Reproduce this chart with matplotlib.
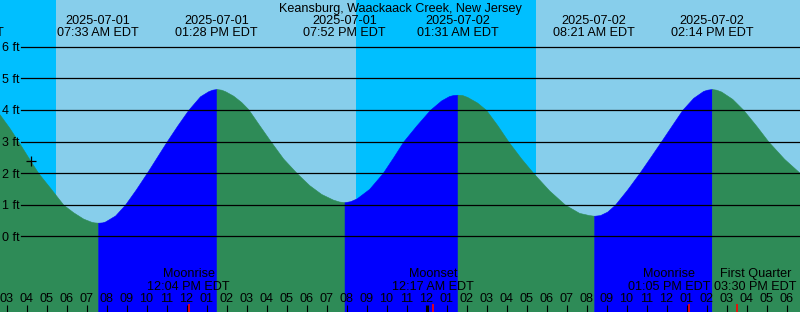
import matplotlib
matplotlib.use("Agg")
import numpy as np
import matplotlib.pyplot as plt

plt.rcParams['font.family'] = ['Liberation Sans', 'DejaVu Sans']

title = "Keansburg, Waackaack Creek, New Jersey"

# tide height, hours counted from 2025-07-01 00:00 EDT
curve_hours = [2.4, 2.64, 3.1, 3.555, 4.05, 4.555, 5.15, 5.805, 6.3, 6.8, 7.2, 7.35, 7.55,
               7.75, 7.9, 8.4, 8.89, 9.43, 9.975, 10.475, 10.975, 11.5, 12.055, 12.64, 13.05,
               13.25, 13.467,
               13.7, 13.9, 14.3, 14.7, 15.055, 15.6, 16.175, 16.8, 17.475, 18.1, 18.7, 19.29,
               19.6, 19.867,
               20.15, 20.475, 21.1, 21.775, 22.3, 22.805, 23.45, 24.14, 24.7, 25.1, 25.3, 25.517,
               25.75, 26.0, 26.5, 26.94, 27.5, 28.055, 28.7, 29.305, 30.1, 30.89, 31.6, 32.1,
               32.35,
               32.64, 33.0, 33.39, 34.0, 34.605, 35.15, 35.69, 36.22, 36.755, 37.3, 37.8, 38.0,
               38.233,
               38.45, 38.7, 39.25, 39.805, 40.45, 41.055, 41.85, 42.64, 42.9]
curve_feet = [4.04, 3.84, 3.44, 3.0, 2.5, 2.0, 1.53, 1.0, 0.76, 0.56, 0.46, 0.44, 0.43,
              0.44, 0.47, 0.66, 1.0, 1.48, 2.0, 2.5, 3.0, 3.5, 4.0, 4.43, 4.59,
              4.64, 4.66,
              4.64, 4.59, 4.45, 4.25, 4.02, 3.52, 3.0, 2.46, 2.0, 1.62, 1.34, 1.16,
              1.1, 1.08,
              1.11, 1.2, 1.5, 2.0, 2.5, 3.0, 3.5, 4.0, 4.3, 4.44, 4.47, 4.48,
              4.47, 4.41, 4.23, 4.0, 3.52, 3.0, 2.46, 2.0, 1.45, 1.0, 0.74, 0.67,
              0.65,
              0.67, 0.78, 1.0, 1.48, 2.0, 2.5, 3.0, 3.5, 4.0, 4.38, 4.6, 4.64,
              4.66,
              4.64, 4.58, 4.35, 4.0, 3.5, 3.0, 2.45, 2.0, 1.87]

extreme_hours = [0.78, 7.55, 13.467, 19.867, 25.517, 32.35, 38.233]
extreme_dates = ["2025-07-01", "2025-07-01", "2025-07-01", "2025-07-01",
                 "2025-07-02", "2025-07-02", "2025-07-02"]
extreme_times = ["12:47 AM EDT", "07:33 AM EDT", "01:28 PM EDT", "07:52 PM EDT",
                 "01:31 AM EDT", "08:21 AM EDT", "02:14 PM EDT"]

moon_hours = [12.067, 24.283, 37.083, 39.5]
moon_events = ["Moonrise", "Moonset", "Moonrise", "First Quarter"]
moon_times = ["12:04 PM EDT", "12:17 AM EDT", "01:05 PM EDT", "03:30 PM EDT"]
# the last two labels are pushed sideways so they fit inside the picture
moon_shift = [0.0, 0.0, -0.97, 0.92]

daylight = [(5.42, 20.43), (29.42, 45.0)]
now_hour, now_feet = 4.19, 2.38
feet_levels = [0, 1, 2, 3, 4, 5, 6]

W, H = 800, 312
t0 = 2.64                 # hour at left edge
px_per_hour = 20.0
zero_px, px_per_ft = 236.3, 31.6

fig = plt.figure(figsize=(W / 100, H / 100), dpi=100)
ax = fig.add_axes([0, 0, 1, 1])
ax.set_xlim(t0, t0 + W / px_per_hour)
ybot = (zero_px - H) / px_per_ft
ax.set_ylim(ybot, zero_px / px_per_ft)
ax.axis("off")

night, day = "#00BFFF", "#87CEEB"
ax.axvspan(t0 - 5, t0 + 50, color=night, lw=0, zorder=0)
for rise, sset in daylight:
    ax.axvspan(rise, sset, color=day, lw=0, zorder=0)

# water: blue while rising, green while falling
hrs = np.array(curve_hours)
ft = np.array(curve_feet)
rising = np.diff(ft) > 0
start = 0
for i in range(1, len(rising) + 1):
    if i == len(rising) or rising[i] != rising[start]:
        c = "#0000FF" if rising[start] else "#2E8B57"
        ax.fill_between(hrs[start:i + 1], ft[start:i + 1], ybot - 1,
                        color=c, lw=0.4, edgecolor=c, zorder=1)
        start = i

for lvl in feet_levels:
    ax.axhline(lvl, xmin=21 / W, xmax=1, color="black", lw=0.9, zorder=2)
    ax.text(2.5 / W, lvl - 4.6 / px_per_ft, f"{lvl} ft", transform=ax.get_yaxis_transform(),
            ha="left", va="baseline", fontsize=9, zorder=3)

ax.plot(now_hour, now_feet, marker="+", color="black", ms=7, mew=0.9, zorder=3)

xt = ax.get_xaxis_transform()


def ypix(p):
    return 1 - p / H


ax.text(t0 + 400 / px_per_hour, ypix(11.7), title, transform=xt, ha="center",
        va="baseline", fontsize=9.1)
for hr, d, tm in zip(extreme_hours, extreme_dates, extreme_times):
    ax.text(hr, ypix(24), d, transform=xt, ha="center", va="baseline", fontsize=9.1)
    ax.text(hr, ypix(36), tm, transform=xt, ha="center", va="baseline", fontsize=9.1)

# hour ticks along the bottom
for hr in range(2, 44):
    lw = 2.2 if hr % 24 == 0 else 0.8
    ax.plot([hr, hr], [0, 7 / H], transform=xt, color="black", lw=lw, zorder=3,
            solid_capstyle="butt")
    lab = f"{(hr - 1) % 12 + 1:02d}"
    ax.text(hr - 0.05, ypix(301.7), lab, transform=xt, ha="center", va="baseline",
            fontsize=9.1, zorder=4)

for hr, ev, tm, sh in zip(moon_hours, moon_events, moon_times, moon_shift):
    ax.plot([hr, hr], [0, 8 / H], transform=xt, color="red", lw=1.2, zorder=4,
            solid_capstyle="butt")
    ax.text(hr + sh, ypix(277.3), ev, transform=xt, ha="center", va="baseline",
            fontsize=9.1, zorder=4)
    ax.text(hr + sh, ypix(290), tm, transform=xt, ha="center", va="baseline",
            fontsize=9.1, zorder=4)

fig.savefig("out.png", dpi=100)
plt.close(fig)
